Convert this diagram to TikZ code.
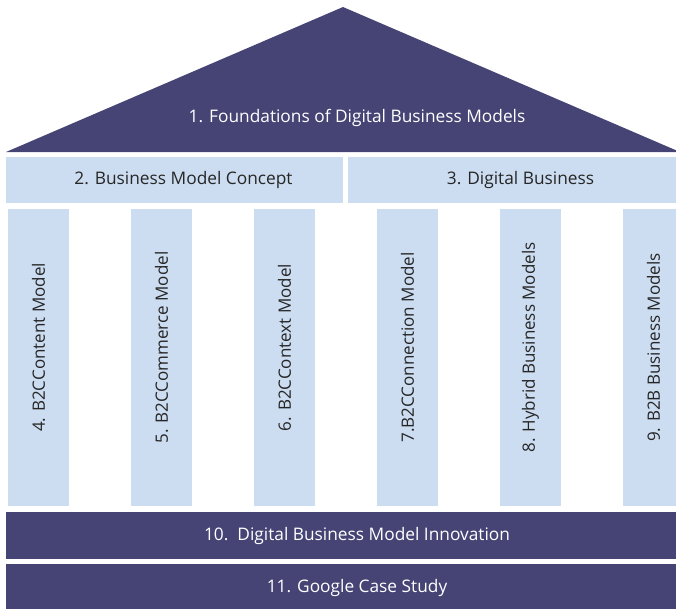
\documentclass[tikz,border=0pt]{standalone}
\usepackage{fontspec}
\setmainfont{Open Sans}
\usetikzlibrary{positioning}
\definecolor{roofblue}{RGB}{69,68,117}
\definecolor{paleblue}{RGB}{204,221,241}

\begin{document}
\begin{tikzpicture}[x=1pt, y=-1pt, node distance=61.6pt,
        dark/.style={rectangle, fill=roofblue, text=white, inner sep=0pt, font=\fontsize{17.3}{20}\selectfont},
        light/.style={rectangle, fill=paleblue, text=black!85, inner sep=0pt, font=\fontsize{17.3}{20}\selectfont},
        beam/.style={light, minimum height=46pt},
        pillar/.style={light, minimum width=61pt, minimum height=297pt, text depth=20pt, font=\fontsize{17}{20}\selectfont},
        base/.style={dark, minimum width=702pt, minimum height=47pt}]
        \useasboundingbox (0,0) rectangle (676,608);
        \clip (0,0) rectangle (676,608);

        % Roof
        \fill[roofblue] (6,152) -- (343,7) -- (680,152) -- cycle;
        \node[text=white, font=\fontsize{17.3}{20}\selectfont, anchor=base] (found) at (357,122.3) {1. Foundations of Digital Business Models};

        % Beams
        \node[beam, minimum width=337pt] (concept) at (174.5,180) {\hspace*{18pt}2. Business Model Concept};
        \node[beam, minimum width=345pt] (digital) at (520.5,180) {3. Digital Business};

        % Pillars
        \node[pillar] (content) at (38.5,357.5) {\rotatebox{90}{4. B2CContent Model}};
        \node[pillar, right=of content] (commerce) {\rotatebox{90}{5. B2CCommerce Model}};
        \node[pillar, right=of commerce] (context) {\rotatebox{90}{6. B2CContext Model}};
        \node[pillar, right=of context] (connection) {\rotatebox{90}{7.B2CConnection Model}};
        \node[pillar, right=of connection] (hybrid) {\rotatebox{90}{8. Hybrid Business Models}};
        \node[pillar, right=of hybrid] (btob) {\rotatebox{90}{9. B2B Business Models}};

        % Base
        \node[base] (innovation) at (357,535.5) {10.\ \ Digital Business Model Innovation};
        \node[base] (google) at (357,587.5) {11. Google Case Study};
    \end{tikzpicture}
\end{document}
